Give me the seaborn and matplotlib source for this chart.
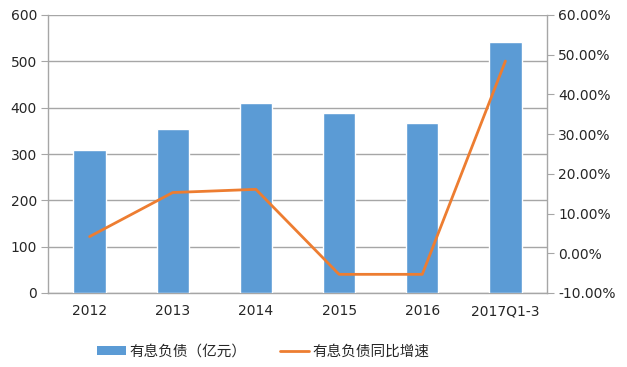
import numpy as np
import pandas as pd
import matplotlib
matplotlib.use("Agg")
import matplotlib.pyplot as plt
from matplotlib.ticker import FuncFormatter, FixedLocator
from matplotlib.patches import Patch
from matplotlib.lines import Line2D
import seaborn as sns

years = ["2012", "2013", "2014", "2015", "2016", "2017Q1-3"]
debt = [308, 355, 409, 389, 366, 542]          # 有息负债（亿元）
growth = [4.2, 15.3, 16.1, -5.3, -5.3, 48.4]   # 同比增速 (%)

BAR_COLOR = "#5B9BD5"
LINE_COLOR = "#ED7D31"
GRID = "#A6A6A6"
TEXT = "#262626"

sns.set_style("white")
plt.rcParams["font.family"] = ["DejaVu Sans", "Noto Sans CJK SC"]

df = pd.DataFrame({"year": years, "debt": debt, "growth": growth})

fig = plt.figure(figsize=(6.27, 3.67), dpi=100)
ax = fig.add_axes([48 / 627, 1 - 293 / 367, 499 / 627, 278 / 367])

sns.barplot(data=df, x="year", y="debt", color=BAR_COLOR, width=0.39,
            saturation=1, ax=ax, zorder=3)
ax.set_ylim(0, 600)
ax.set_yticks(range(0, 601, 100))
ax.set_xlim(-0.5, 5.5)
ax.grid(axis="y", color=GRID, lw=1, zorder=0)
ax.set_axisbelow(True)
ax.set_xlabel("")
ax.set_ylabel("")

ax2 = ax.twinx()
sns.lineplot(data=df, x="year", y="growth", color=LINE_COLOR, lw=2, ax=ax2)
ax2.set_ylim(-10, 60)
ax2.set_yticks(range(-10, 61, 10))
ax2.yaxis.set_major_formatter(FuncFormatter(lambda v, p: f"{v:.2f}%"))
ax2.set_ylabel("")
ax2.set_xlim(-0.5, 5.5)

for a in (ax, ax2):
    for s in a.spines.values():
        s.set_visible(False)
ax.spines["left"].set_visible(True)
ax.spines["bottom"].set_visible(True)
ax2.spines["right"].set_visible(True)
for s in (ax.spines["left"], ax.spines["bottom"], ax2.spines["right"]):
    s.set_color(GRID)
    s.set_linewidth(1)

ax.tick_params(axis="y", length=5, color=GRID, labelsize=10, labelcolor=TEXT, pad=3)
ax2.tick_params(axis="y", length=5, color=GRID, labelsize=10, labelcolor=TEXT, pad=3)
ax.tick_params(axis="x", which="major", length=0, labelsize=10, labelcolor=TEXT, pad=8)
ax.xaxis.set_minor_locator(FixedLocator(np.arange(-0.5, 6, 1)))
ax.tick_params(axis="x", which="minor", length=5, color=GRID)

handles = [Patch(facecolor=BAR_COLOR, edgecolor="none"),
           Line2D([0], [0], color=LINE_COLOR, lw=2)]
fig.legend(handles, ["有息负债（亿元）", "有息负债同比增速"],
           loc="center", bbox_to_anchor=(0.42, 1 - 352 / 367), ncol=2,
           frameon=False, handlelength=2.0, handleheight=0.55,
           columnspacing=2.3, handletextpad=0.25,
           prop={"family": ["Noto Sans CJK SC", "DejaVu Sans"], "size": 10.5})

fig.savefig("out.png", dpi=100)
